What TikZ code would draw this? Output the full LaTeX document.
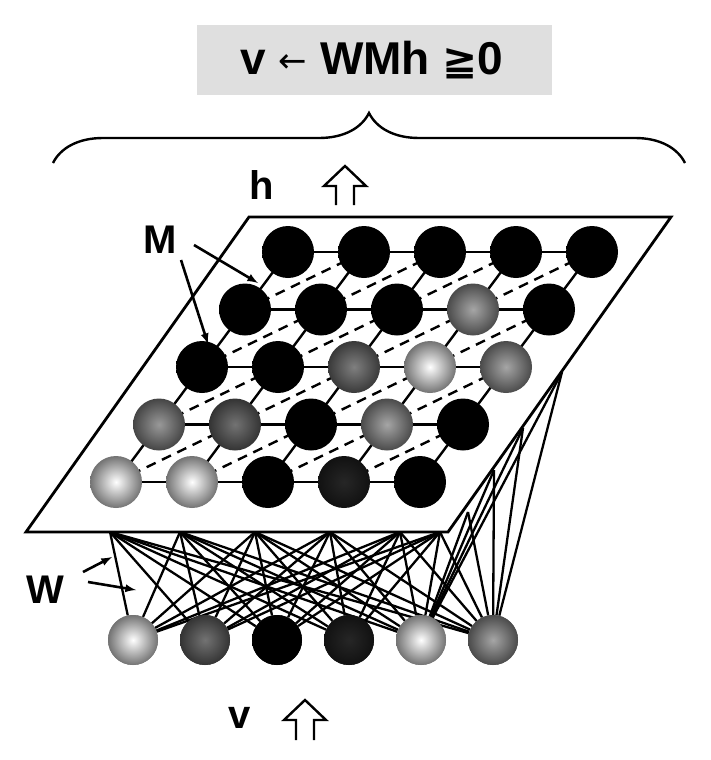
\documentclass[tikz,border=0pt]{standalone}
\usepackage{fontspec}
\setmainfont{Liberation Sans}
\newfontfamily\symfont{DejaVu Sans}
\usetikzlibrary{calc}
\usetikzlibrary{positioning}
\usetikzlibrary{decorations.pathreplacing}

\tikzset{
  unit/.style={circle, minimum width=51pt, minimum height=52pt, inner sep=0pt,
    shading=radial, inner color=white!#1!black, outer color=white!#1!black!45!black},
  vunit/.style={unit=#1, minimum width=49pt, minimum height=50pt},
  lbl/.style={font=\fontsize{40}{40}\selectfont\bfseries},
  bond/.style={line width=2.4pt},
  wire/.style={line width=2.3pt},
  pointer/.style={-latex, line width=2.6pt},
  openarrow/.style={draw, line width=2.4pt, fill=white}
}

\begin{document}
\begin{tikzpicture}[x=1pt, y=-1pt]
  \useasboundingbox (0,0) rectangle (710,760);

  % Formula box and brace
  \fill[gray!25] (197,25) rectangle (552,95);
  \node[font=\fontsize{46}{46}\selectfont\bfseries] (eq) at (372,60)
    {v {\symfont\mdseries\fontsize{34}{34}\selectfont\raisebox{2pt}{←}} WMh {\symfont\fontsize{42}{42}\selectfont≧}0};
  \draw[line width=2.4pt, decorate, decoration={brace, amplitude=50pt}]
    (53,163) -- (685,163);

  % h arrow
  \node[lbl] (h) at (262,185) {h};
  \draw[openarrow] (336,205) -- (336,186) -- (324,186) -- (345,166) -- (366,186) -- (354,186) -- (354,205);

  % Visible units
  \foreach \i/\w in {1/100, 2/45, 3/0, 4/15, 5/100, 6/65} {
    \node[vunit=\w] (v\i) at ({133+72*(\i-1)},640) {};
  }

  % Anchor points of the weights on the plane
  \foreach \j/\x in {1/110, 2/180, 3/255, 4/330, 5/400, 6/440} {
    \coordinate (a\j) at (\x,532);
  }
  \coordinate (r1) at (562,372);
  \coordinate (r2) at (523,428);
  \coordinate (r3) at (494,470);
  \coordinate (r4) at (468,512);

  % Weights W
  \foreach \i in {1,...,6} {
    \foreach \j in {1,...,6} {
      \draw[wire] (v\i) -- (a\j);
    }
  }
  \foreach \i in {5,6} {
    \foreach \k in {1,...,4} {
      \draw[wire] (v\i) -- (r\k);
    }
  }
  % redraw units on top of wires
  \foreach \i/\w in {1/100, 2/45, 3/0, 4/15, 5/100, 6/65} {
    \node[vunit=\w] at (v\i) {};
  }

  % Hidden plane
  \draw[line width=2.8pt, fill=white] (249,217) -- (671,217) -- (448,532) -- (26,532) -- cycle;

  % Hidden unit positions
  \foreach \r in {1,...,5} {
    \foreach \c in {1,...,5} {
      \coordinate (p\r\c) at ({288+76*(\c-1)-43*(\r-1)},{252+57.5*(\r-1)});
    }
  }
  % Grid bonds
  \foreach \r in {1,...,5} {
    \draw[bond] (p\r1) -- (p\r5);
  }
  \foreach \c in {1,...,5} {
    \draw[bond] (p1\c) -- (p5\c);
  }
  % Lateral connections M
  \foreach \r/\s in {2/1, 3/2, 4/3, 5/4} {
    \foreach \c/\d in {1/2, 2/3, 3/4, 4/5} {
      \draw[bond, dash pattern=on 10pt off 7pt] (p\r\c) -- (p\s\d);
    }
  }

  % Hidden units
  \foreach \r/\c/\w in {
      1/1/0, 1/2/0, 1/3/0, 1/4/0, 1/5/0,
      2/1/0, 2/2/0, 2/3/0, 2/4/65, 2/5/0,
      3/1/0, 3/2/0, 3/3/50, 3/4/100, 3/5/65,
      4/1/60, 4/2/45, 4/3/0, 4/4/65, 4/5/0,
      5/1/100, 5/2/100, 5/3/0, 5/4/15, 5/5/0} {
    \node[unit=\w] (u\r\c) at (p\r\c) {};
  }

  % Labels M and W
  \node[lbl] (M) at (160,240) {M};
  \draw[pointer] (194,245) -- (258,283);
  \draw[pointer] (181,260) -- (208,344);
  \node[lbl] (W) at (45,590) {W};
  \draw[pointer] (83,572) -- (112,557);
  \draw[pointer] (88,582) -- (136,590);

  % v arrow
  \node[lbl] (v) at (240,718) {v};
  \draw[openarrow] (296,740) -- (296,720) -- (284,720) -- (305,700) -- (326,720) -- (314,720) -- (314,740);
\end{tikzpicture}
\end{document}
